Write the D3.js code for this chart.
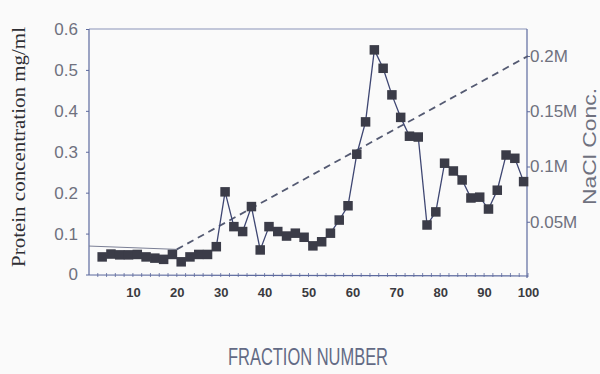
<!DOCTYPE html>
<html><head><meta charset="utf-8">
<script src="https://cdn.jsdelivr.net/npm/d3@7"></script>
<style>html,body{margin:0;padding:0;background:#fafafa;} svg{display:block}</style>
</head><body><svg id="c" width="600" height="374"></svg>
<script>
const fractions = [3,5,7,9,11,13,15,17,19,21,23,25,27,29,31,33,35,37,39,41,43,45,47,49,51,53,55,57,59,61,63,65,67,69,71,73,75,77,79,81,83,85,87,89,91,93,95,97,99];
const protein = [0.043,0.050,0.048,0.048,0.049,0.043,0.040,0.037,0.049,0.031,0.043,0.049,0.049,0.068,0.202,0.117,0.105,0.166,0.060,0.117,0.105,0.094,0.101,0.091,0.070,0.080,0.101,0.133,0.168,0.294,0.373,0.549,0.504,0.439,0.384,0.338,0.336,0.121,0.153,0.272,0.253,0.231,0.187,0.189,0.160,0.206,0.292,0.284,0.227];
const gradientFractions = [0, 20, 100];
const gradientNaCl = [0.028, 0.025, 0.2];
const leftTicks = [0,0.1,0.2,0.3,0.4,0.5,0.6];
const rightTicks = [0.05,0.1,0.15,0.2];
const rightLabels = ["0.05M","0.1M","0.15M","0.2M"];
const bottomTicks = [10,20,30,40,50,60,70,80,90,100];
const minorTicks = [2,4,6,8,10,12,14,16,18,20,22,24,26,28,30,32,34,36,38,40,42,44,46,48,50,52,54,56,58,60,62,64,66,68,70,72,74,76,78,80,82,84,86,88,90,92,94,96,98,100];

const svg = d3.select("#c");
const axisCol = "#5d6a9e";
const labelCol = "#6f717e";
const x = d3.scaleLinear().domain([0,100]).range([89,528]);
const yL = d3.scaleLinear().domain([0,0.6]).range([274.5,29]);
const yR = d3.scaleLinear().domain([0,0.2]).range([277,56]);

// frame
svg.append("line").attr("x1",89).attr("x2",527).attr("y1",29).attr("y2",29).attr("stroke","#8a93b8").attr("stroke-width",1);
svg.append("line").attr("x1",89).attr("x2",89).attr("y1",29).attr("y2",275).attr("stroke",axisCol).attr("stroke-width",1.2);
svg.append("line").attr("x1",527).attr("x2",527).attr("y1",29).attr("y2",278).attr("stroke",axisCol).attr("stroke-width",1.2);
svg.append("line").attr("x1",89).attr("x2",528).attr("y1",275).attr("y2",276).attr("stroke",axisCol).attr("stroke-width",1.2);

// left axis
const la = svg.append("g").attr("transform","translate(89,0)")
  .call(d3.axisLeft(yL).tickValues(leftTicks).tickSize(3).tickPadding(8).tickFormat(d=>d===0?"0":d3.format(".1f")(d)));
la.select(".domain").remove();
la.selectAll("line").attr("stroke",axisCol);
la.selectAll("text").attr("font-family","Liberation Sans, Arial, sans-serif").attr("font-size",17).attr("fill",labelCol);

// right axis
const ra = svg.append("g").attr("transform","translate(527,0)")
  .call(d3.axisRight(yR).tickValues(rightTicks).tickSize(3).tickPadding(0).tickFormat((d,i)=>rightLabels[i]));
ra.select(".domain").remove();
ra.selectAll("line").attr("stroke",axisCol);
ra.selectAll("text").attr("font-family","Liberation Sans, Arial, sans-serif").attr("font-size",17).attr("fill",labelCol);

// bottom minor ticks
svg.append("g").selectAll("line").data(minorTicks).join("line")
  .attr("x1",d=>x(d)).attr("x2",d=>x(d)).attr("y1",273).attr("y2",277)
  .attr("stroke",axisCol).attr("stroke-width",0.8);
// bottom labels
const ba = svg.append("g").attr("transform","translate(0,275)")
  .call(d3.axisBottom(x).tickValues(bottomTicks).tickSize(0).tickPadding(13));
ba.select(".domain").remove();
ba.selectAll("text").attr("font-family","Liberation Sans, Arial, sans-serif").attr("font-weight","bold").attr("font-size",13).attr("fill","#3a3a40");

// gradient line
svg.append("line").attr("x1",x(gradientFractions[0])).attr("y1",yR(gradientNaCl[0]))
  .attr("x2",x(gradientFractions[1])).attr("y2",yR(gradientNaCl[1]))
  .attr("stroke","#7a7f95").attr("stroke-width",1);
svg.append("line").attr("x1",x(gradientFractions[1])).attr("y1",yR(gradientNaCl[1]))
  .attr("x2",x(gradientFractions[2])).attr("y2",yR(gradientNaCl[2]))
  .attr("stroke","#545a72").attr("stroke-width",1.8).attr("stroke-dasharray","7,5");

// protein line
const pts = fractions.map((f,i)=>[f,protein[i]]);
svg.append("path").datum(pts)
  .attr("d",d3.line().x(d=>x(d[0])).y(d=>yL(d[1])))
  .attr("fill","none").attr("stroke","#3e4672").attr("stroke-width",1.3);
const s = 9.5;
svg.append("g").selectAll("rect").data(pts).join("rect")
  .attr("x",d=>x(d[0])-s/2).attr("y",d=>yL(d[1])-s/2)
  .attr("width",s).attr("height",s).attr("fill","#3b3c48");

// titles
svg.append("text").attr("transform","translate(25,147) rotate(-90)")
  .attr("text-anchor","middle").attr("font-family","Liberation Serif, Times New Roman, serif")
  .attr("font-size",19).attr("fill","#2e2e33")
  .attr("textLength",240).attr("lengthAdjust","spacingAndGlyphs")
  .text("Protein concentration mg/ml");
svg.append("text").attr("transform","translate(596,146.5) rotate(-90)")
  .attr("text-anchor","middle").attr("font-family","Liberation Sans, Arial, sans-serif")
  .attr("font-size",18).attr("fill",labelCol)
  .attr("textLength",117).attr("lengthAdjust","spacingAndGlyphs")
  .text("NaCl Conc.");
svg.append("text").attr("x",308).attr("y",365)
  .attr("text-anchor","middle").attr("font-family","Liberation Sans, Arial, sans-serif")
  .attr("font-size",23).attr("fill","#636a85")
  .attr("textLength",160).attr("lengthAdjust","spacingAndGlyphs")
  .text("FRACTION NUMBER");
</script></body></html>
